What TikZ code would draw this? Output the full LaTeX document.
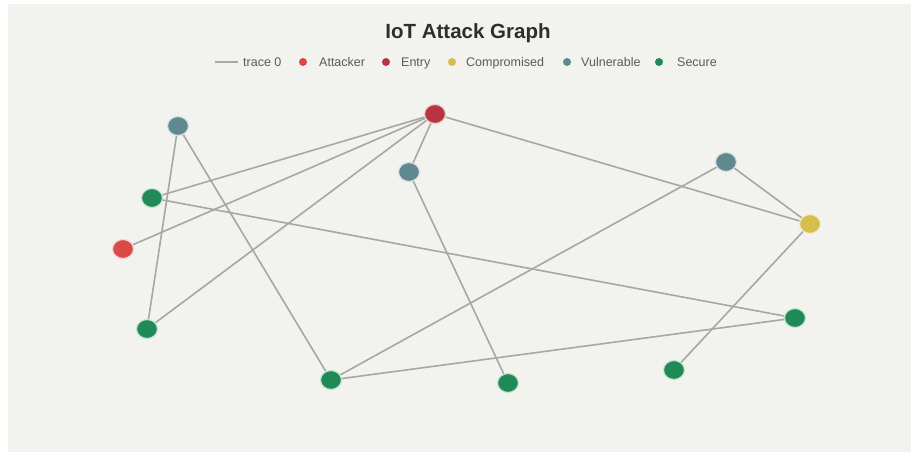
\documentclass[tikz,border=0pt]{standalone}
\usepackage{fontspec}
\setmainfont{Liberation Sans}
\definecolor{bgpanel}{HTML}{F2F2EE}
\definecolor{edgegray}{HTML}{A8A8A2}
\definecolor{cattacker}{HTML}{DB4848}
\definecolor{centry}{HTML}{B83440}
\definecolor{ccomp}{HTML}{D6BE4E}
\definecolor{cvuln}{HTML}{5F8890}
\definecolor{csecure}{HTML}{208A56}
\definecolor{titlegray}{HTML}{2E2E2E}
\definecolor{leggray}{HTML}{5A5A5A}
\tikzset{
  x=1pt, y=-1pt,
  gnode/.style={ellipse, minimum width=21pt, minimum height=19pt, inner sep=0pt, line width=1.2pt},
  attacker/.style={gnode, fill=cattacker, draw=cattacker!25!white},
  entry/.style={gnode, fill=centry, draw=centry!25!white},
  comp/.style={gnode, fill=ccomp, draw=ccomp!30!white},
  vuln/.style={gnode, fill=cvuln, draw=cvuln!25!white},
  secure/.style={gnode, fill=csecure, draw=csecure!25!white},
  link/.style={draw=edgegray, line width=1.6pt},
  legdot/.style={circle, minimum size=8pt, inner sep=0pt},
  legtext/.style={anchor=base west, inner sep=0pt, text=leggray, font=\fontsize{12.5}{14}\selectfont},
}
\usetikzlibrary{shapes.geometric}
\begin{document}
\begin{tikzpicture}
  % canvas and plot panel
  \useasboundingbox (0,0) rectangle (911,452);
  \fill[white] (0,0) rectangle (911,452);
  \fill[bgpanel] (8,4) rectangle (911,452);

  % title
  \node[text=titlegray, font=\bfseries\fontsize{20.5}{24}\selectfont] (title) at (468,33) {IoT Attack Graph};

  % legend
  \coordinate (la) at (215,62);
  \coordinate (lb) at (238,62);
  \draw[link, line width=1.4pt] (la) -- (lb);
  \node[legtext] (lt0) at (243,66.5) {trace 0};
  \node[legdot, fill=cattacker] (ld1) at (303,62) {};
  \node[legtext] (lt1) at (319,66.5) {Attacker};
  \node[legdot, fill=centry] (ld2) at (386,62) {};
  \node[legtext] (lt2) at (401,66.5) {Entry};
  \node[legdot, fill=ccomp] (ld3) at (452,62) {};
  \node[legtext] (lt3) at (466,66.5) {Compromised};
  \node[legdot, fill=cvuln] (ld4) at (567,62) {};
  \node[legtext] (lt4) at (581,66.5) {Vulnerable};
  \node[legdot, fill=csecure] (ld5) at (659,62) {};
  \node[legtext] (lt5) at (677,66.5) {Secure};

  % graph nodes
  \node[vuln] (v1) at (178,126) {};
  \node[entry] (en) at (435,114) {};
  \node[vuln] (v2) at (409,172) {};
  \node[vuln] (v3) at (726,162) {};
  \node[comp] (cp) at (810,224) {};
  \node[secure] (s1) at (152,198) {};
  \node[attacker] (at) at (123,249) {};
  \node[secure] (s2) at (147,329) {};
  \node[secure] (s3) at (331,380) {};
  \node[secure] (s4) at (508,383) {};
  \node[secure] (s5) at (674,370) {};
  \node[secure] (s6) at (795,318) {};

  % connectors
  \draw[link] (v1) -- (s2);
  \draw[link] (v1) -- (s3);
  \draw[link] (en) -- (s1);
  \draw[link] (en) -- (at);
  \draw[link] (en) -- (s2);
  \draw[link] (en) -- (v2);
  \draw[link] (en) -- (cp);
  \draw[link] (v2) -- (s4);
  \draw[link] (v3) -- (cp);
  \draw[link] (v3) -- (s3);
  \draw[link] (s1) -- (s6);
  \draw[link] (s3) -- (s6);
  \draw[link] (cp) -- (s5);
\end{tikzpicture}
\end{document}
